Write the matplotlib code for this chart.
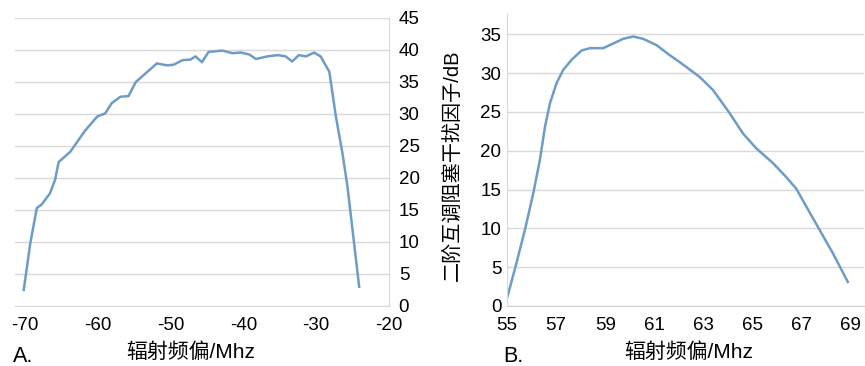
import matplotlib.pyplot as plt

plt.rcParams['font.family'] = ['Liberation Sans', 'Noto Sans CJK SC', 'DejaVu Sans']
plt.rcParams['axes.unicode_minus'] = False

# panel A: radiation frequency offset (MHz) vs factor
a_x = [-70.2, -69.3, -68.4, -67.7, -66.6, -65.9, -65.4, -64.5, -63.8, -62.7, -61.7,
       -60.1, -59.0, -58.1, -56.9, -55.8, -54.8, -53.7, -51.9, -50.5, -49.6, -48.4,
       -47.3, -46.6, -45.7, -44.8, -42.9, -41.5, -40.4, -39.2, -38.3, -36.7, -35.3,
       -34.2, -33.3, -32.4, -31.4, -30.3, -29.4, -28.2, -27.3, -26.4, -25.7, -24.1]
a_y = [2.5, 9.8, 15.3, 15.9, 17.6, 19.7, 22.5, 23.4, 24.1, 25.9, 27.5,
       29.6, 30.1, 31.7, 32.7, 32.8, 35.0, 36.1, 37.9, 37.6, 37.7, 38.4,
       38.5, 39.0, 38.1, 39.7, 39.9, 39.5, 39.6, 39.3, 38.6, 39.0, 39.2,
       39.0, 38.2, 39.2, 39.0, 39.6, 39.0, 36.6, 29.6, 23.9, 18.6, 3.0]
a_xticks = [-70, -60, -50, -40, -30, -20]
a_yticks = [0, 5, 10, 15, 20, 25, 30, 35, 40, 45]

# panel B
b_x = [55.0, 55.33, 55.73, 56.07, 56.34, 56.55, 56.75, 57.02, 57.29, 57.63, 58.04,
       58.38, 58.92, 59.33, 59.73, 60.14, 60.55, 61.09, 61.63, 62.04, 62.85, 63.4,
       64.08, 64.62, 65.16, 65.84, 66.38, 66.79, 67.2, 67.74, 68.28, 68.89]
b_y = [1.0, 4.85, 9.8, 14.5, 18.8, 23.1, 26.1, 28.7, 30.4, 31.7, 32.9,
       33.2, 33.2, 33.8, 34.4, 34.7, 34.4, 33.6, 32.3, 31.4, 29.5, 27.8,
       24.8, 22.2, 20.3, 18.4, 16.6, 15.1, 12.8, 9.8, 6.8, 3.1]
b_xticks = [55, 57, 59, 61, 63, 65, 67, 69]
b_yticks = [0, 5, 10, 15, 20, 25, 30, 35]

line_c = '#6F9CC6'
grid_c = '#D9D9D9'
W, H = 865, 366

fig = plt.figure(figsize=(8.65, 3.66), dpi=100)

ax1 = fig.add_axes([15 / W, 1 - 306 / H, (389 - 15) / W, (306 - 18) / H])
ax1.plot(a_x, a_y, color=line_c, lw=1.8, solid_joinstyle='round')
ax1.set_xlim(-71.4, -20)
ax1.set_ylim(0, 45)
ax1.set_xticks(a_xticks)
ax1.set_yticks(a_yticks)
ax1.yaxis.tick_right()
for s in ['top', 'left']:
    ax1.spines[s].set_visible(False)
ax1.spines['right'].set_color(grid_c)
ax1.spines['bottom'].set_color(grid_c)
ax1.tick_params(length=0, labelsize=13.5, colors='black')
ax1.tick_params(axis='y', pad=7)
ax1.tick_params(axis='x', pad=8)
ax1.grid(axis='y', color=grid_c, lw=1)
ax1.set_axisbelow(True)

ax2 = fig.add_axes([507 / W, 1 - 306 / H, (864 - 507) / W, (306 - 14) / H])
ax2.plot(b_x, b_y, color=line_c, lw=1.8, solid_joinstyle='round')
ax2.set_xlim(55, 69.55)
ax2.set_ylim(0, 37.6)
ax2.set_xticks(b_xticks)
ax2.set_yticks(b_yticks)
for s in ['top', 'right']:
    ax2.spines[s].set_visible(False)
ax2.spines['left'].set_color(grid_c)
ax2.spines['bottom'].set_color('#C9D0D8')
ax2.tick_params(length=0, labelsize=13.5, colors='black')
ax2.tick_params(axis='y', pad=4)
ax2.tick_params(axis='x', pad=8)
ax2.grid(axis='y', color=grid_c, lw=1)
ax2.set_axisbelow(True)

fig.text(452 / W, 1 - 165 / H, '二阶互调阻塞干扰因子/dB', rotation=90,
         ha='center', va='center', fontsize=14.5)

fig.text(191 / W, 1 - 352 / H, '辐射频偏/Mhz', ha='center', va='center', fontsize=15)
fig.text(689 / W, 1 - 352 / H, '辐射频偏/Mhz', ha='center', va='center', fontsize=15)
fig.text(13 / W, 1 - 356 / H, 'A.', ha='left', va='center', fontsize=15.5)
fig.text(503 / W, 1 - 356 / H, 'B.', ha='left', va='center', fontsize=15.5)

fig.savefig('out.png', dpi=100)
